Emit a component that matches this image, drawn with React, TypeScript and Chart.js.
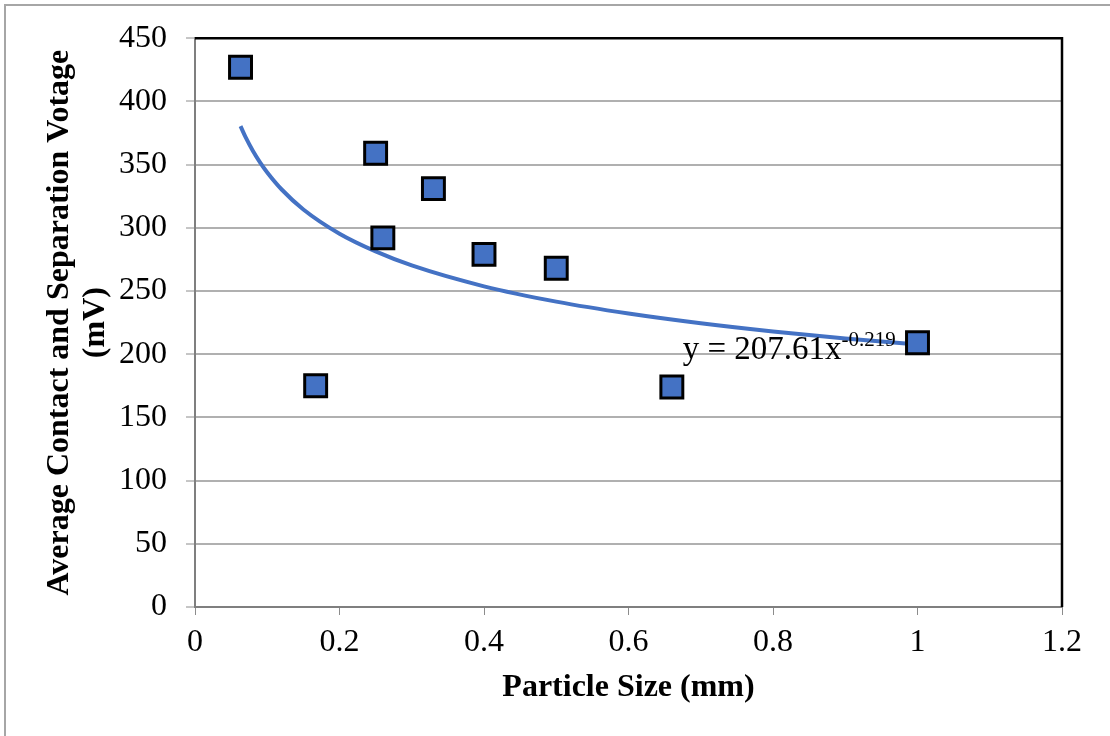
import React, { useEffect, useRef } from "react";
import { Chart, registerables } from "chart.js";

Chart.register(...registerables);

// Measured points
const sizesMm = [0.063, 0.167, 0.25, 0.26, 0.33, 0.4, 0.5, 0.66, 1.0];
const voltagesMv = [427, 175, 359, 292, 331, 279, 268, 174, 209];

// Power trendline as drawn
const trendX = [0.063, 0.07, 0.08, 0.09, 0.1, 0.12, 0.15, 0.2, 0.25, 0.3, 0.4, 0.5, 0.6, 0.7, 0.8, 0.9, 1.0];
const trendY = [380.4, 371.7, 361.0, 351.8, 343.8, 330.3, 314.5, 295.3, 281.3, 270.2, 253.7, 241.6, 232.2, 224.5, 218.0, 212.5, 207.6];

const xAxisMin = 0;
const xAxisMax = 1.2;
const xStep = 0.2;
const yAxisMin = 0;
const yAxisMax = 450;
const yStep = 50;

const xTitle = "Particle Size (mm)";
const yTitleLines = ["Average Contact and Separation Votage", "(mV)"];
const eqMain = "y = 207.61x";
const eqSup = "-0.219";
const eqAnchor = { x: 0.675, y: 196 };

const FONT = "'Liberation Serif', 'Times New Roman', serif";
const BLUE = "#4472C4";

const decorPlugin = {
  id: "decor",
  beforeDraw(chart: any) {
    const ctx = chart.ctx;
    ctx.save();
    ctx.fillStyle = "#ffffff";
    ctx.fillRect(0, 0, chart.width, chart.height);
    // outer frame (left + top)
    ctx.strokeStyle = "#a6a6a6";
    ctx.lineWidth = 2;
    ctx.beginPath();
    ctx.moveTo(5, chart.height);
    ctx.lineTo(5, 5);
    ctx.lineTo(chart.width, 5);
    ctx.stroke();
    ctx.restore();
  },
  afterDraw(chart: any) {
    const ctx = chart.ctx;
    const a = chart.chartArea;
    const xs = chart.scales.x;
    const ys = chart.scales.y;
    ctx.save();
    // top / right plot border
    ctx.strokeStyle = "#000000";
    ctx.lineWidth = 2.5;
    ctx.beginPath();
    ctx.moveTo(a.left, a.top);
    ctx.lineTo(a.right, a.top);
    ctx.lineTo(a.right, a.bottom);
    ctx.stroke();

    // x title
    ctx.fillStyle = "#000000";
    ctx.font = `bold 32px ${FONT}`;
    ctx.textAlign = "center";
    ctx.textBaseline = "middle";
    ctx.fillText(xTitle, (a.left + a.right) / 2, 688);

    // y title
    const cy = (a.top + a.bottom) / 2;
    ctx.save();
    ctx.translate(60, cy);
    ctx.rotate(-Math.PI / 2);
    ctx.fillText(yTitleLines[0], 0, 0);
    ctx.restore();
    ctx.save();
    ctx.translate(96, cy);
    ctx.rotate(-Math.PI / 2);
    ctx.fillText(yTitleLines[1], 0, 0);
    ctx.restore();

    // equation
    const ex = xs.getPixelForValue(eqAnchor.x);
    const ey = ys.getPixelForValue(eqAnchor.y);
    ctx.textAlign = "left";
    ctx.textBaseline = "alphabetic";
    ctx.font = `33px ${FONT}`;
    ctx.fillText(eqMain, ex, ey);
    const w = ctx.measureText(eqMain).width;
    ctx.font = `21px ${FONT}`;
    ctx.fillText(eqSup, ex + w, ey - 13);
    ctx.restore();
  },
};

export default function App() {
  const ref = useRef<HTMLCanvasElement | null>(null);
  useEffect(() => {
    if (!ref.current) return;
    const chart = new Chart(ref.current, {
      type: "scatter",
      data: {
        datasets: [
          {
            label: "Voltage",
            data: sizesMm.map((x, i) => ({ x, y: voltagesMv[i] })),
            pointStyle: "rect",
            pointRadius: 15.5,
            pointBackgroundColor: BLUE,
            pointBorderColor: "#000000",
            pointBorderWidth: 3,
            showLine: false,
            order: 0,
          },
          {
            label: "Power trend",
            data: trendX.map((x, i) => ({ x, y: trendY[i] })),
            showLine: true,
            borderColor: BLUE,
            borderWidth: 4,
            pointRadius: 0,
            tension: 0.4,
            cubicInterpolationMode: "monotone",
            fill: false,
            order: 1,
          },
        ],
      },
      options: {
        animation: false,
        responsive: false,
        maintainAspectRatio: false,
        devicePixelRatio: 1,
        layout: { padding: { top: 36, right: 48, left: 0, bottom: 0 } },
        plugins: { legend: { display: false }, tooltip: { enabled: false } },
        scales: {
          x: {
            type: "linear",
            min: xAxisMin,
            max: xAxisMax,
            afterFit: (s: any) => { s.height = 129; },
            ticks: {
              stepSize: xStep,
              color: "#000000",
              font: { family: FONT, size: 32 },
              padding: 8,
              maxRotation: 0,
              callback: (v: any) => String(Number(Number(v).toFixed(1))),
            },
            grid: {
              drawOnChartArea: false,
              drawTicks: true,
              tickLength: 8,
              tickColor: "#8c8c8c",
              tickWidth: 1,
            },
            border: { color: "#7f7f7f", width: 2 },
          },
          y: {
            type: "linear",
            min: yAxisMin,
            max: yAxisMax,
            afterFit: (s: any) => { s.width = 195; },
            ticks: {
              stepSize: yStep,
              color: "#000000",
              font: { family: FONT, size: 32 },
              padding: 19,
            },
            grid: {
              color: "#b0b0b0",
              lineWidth: 2,
              drawTicks: true,
              tickLength: 9,
              tickColor: "#8c8c8c",
              tickWidth: 1,
            },
            border: { color: "#7f7f7f", width: 2 },
          },
        },
      },
      plugins: [decorPlugin],
    } as any);
    return () => chart.destroy();
  }, []);
  return (
    <div style={{ position: "fixed", left: 0, top: 0, width: 1110, height: 736, background: "#fff" }}>
      <canvas ref={ref} width={1110} height={736} style={{ width: 1110, height: 736, display: "block" }} />
    </div>
  );
}
